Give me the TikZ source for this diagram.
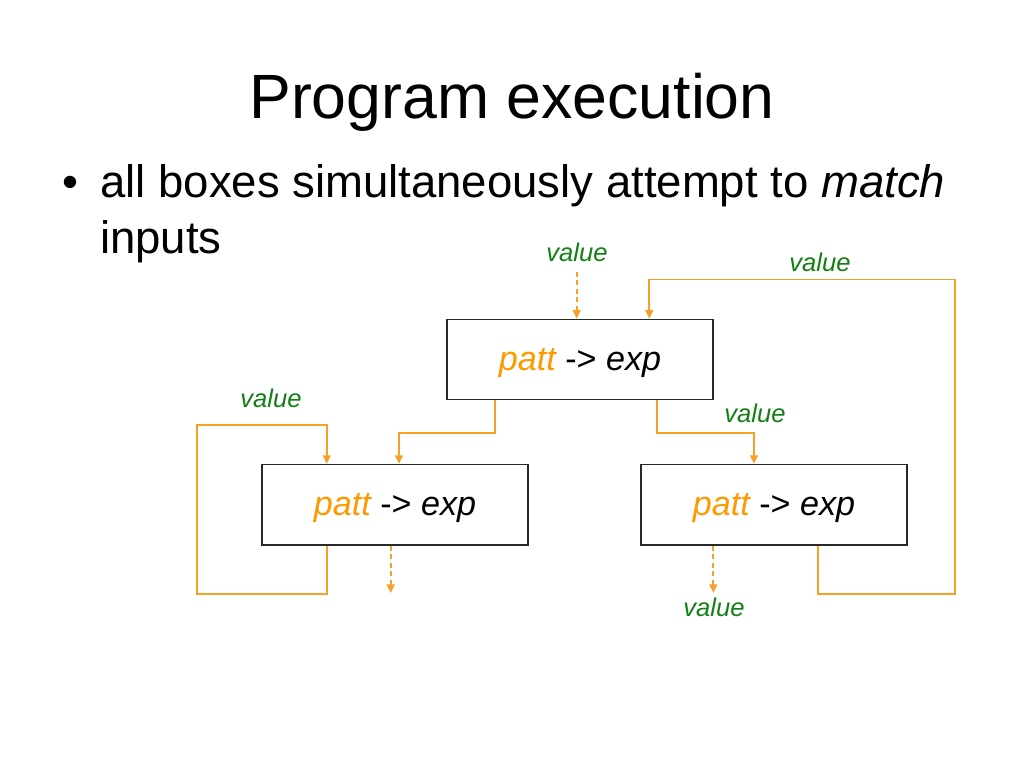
\documentclass[tikz,border=0pt]{standalone}
\usepackage{fontspec}
\setmainfont{Liberation Sans}
\usetikzlibrary{arrows.meta}
\definecolor{org}{RGB}{247,160,40}
\definecolor{pattorg}{RGB}{255,153,0}
\definecolor{grn}{RGB}{20,128,20}
\definecolor{boxline}{RGB}{40,40,40}
\begin{document}
\begin{tikzpicture}[x=0.703125pt,y=-0.703125pt,
  box/.style={draw=boxline,line width=1pt,minimum width=187pt,minimum height=56.5pt,inner sep=0pt,text depth=0pt,font=\fontsize{24}{28}\selectfont\itshape},
  wire/.style={draw=org,line width=1.2pt,-{Triangle[length=6pt,width=5.5pt]}},
  dwire/.style={wire,dash pattern=on 3.5pt off 2.5pt},
  lbl/.style={text=grn,font=\fontsize{18}{20}\selectfont\itshape,inner sep=0pt}]
\useasboundingbox (0,0) rectangle (1024,768);

\node[anchor=base,font=\fontsize{44}{50}\selectfont] (title) at (512,119) {Program execution};
\node[anchor=base,font=\fontsize{32}{36}\selectfont] (bul) at (70,198) {•};
\node[anchor=base west,font=\fontsize{32}{36}\selectfont,inner sep=0pt] (l1) at (100,198) {all boxes simultaneously attempt to \textit{match}};
\node[anchor=base west,font=\fontsize{32}{36}\selectfont,inner sep=0pt] (l2) at (100,254) {inputs};

\node[box] (top) at (580,359.6) {\textcolor{pattorg}{patt} {\upshape ->} exp};
\node[box] (left) at (395,504.7) {\textcolor{pattorg}{patt} {\upshape ->} exp};
\node[box] (right) at (774,504.7) {\textcolor{pattorg}{patt} {\upshape ->} exp};

\coordinate (xa) at (495.3,0);
\coordinate (xb) at (399,0);
\coordinate (xc) at (656.7,0);
\coordinate (xd) at (754,0);
\coordinate (xe) at (326.7,0);
\coordinate (xf) at (818.3,0);
\coordinate (xg) at (649.3,0);
\coordinate (tin) at (576.7,271.7);
\coordinate (lout) at (390.7,593);
\coordinate (rout) at (713.3,593);

\draw[dwire] (tin) -- (top.north -| tin);
\draw[wire] (top.south -| xa) -- ++(0,32.2) -| (left.north -| xb);
\draw[wire] (top.south -| xc) -- ++(0,32.2) -| (right.north -| xd);
\draw[wire] (left.south -| xe) -- ++(0,48.3) -- ++(-129.4,0) -- ++(0,-169) -| (left.north -| xe);
\draw[wire] (right.south -| xf) -- ++(0,48.3) -- ++(136.7,0) -- ++(0,-314.3) -| (top.north -| xg);
\draw[dwire] (left.south -| lout) -- (lout);
\draw[dwire] (right.south -| rout) -- (rout);

\node[lbl] (v1) at (577,252) {value};
\node[lbl] (v2) at (820,262) {value};
\node[lbl] (v3) at (755,413) {value};
\node[lbl] (v4) at (271,398) {value};
\node[lbl] (v5) at (714,607) {value};
\end{tikzpicture}
\end{document}
